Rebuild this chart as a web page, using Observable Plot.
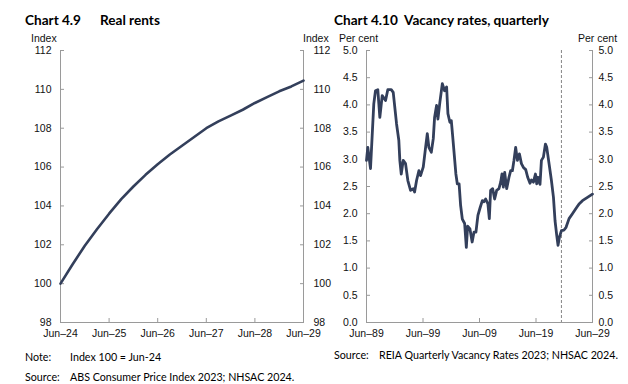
<!DOCTYPE html>
<html><head><meta charset="utf-8">
<script src="https://cdn.jsdelivr.net/npm/d3@7"></script>
<script src="https://cdn.jsdelivr.net/npm/@observablehq/plot@0.6"></script>
<style>
body{margin:0;width:628px;height:384px;position:relative;background:#fff;overflow:hidden;font-family:"Liberation Sans",Arial,sans-serif;}
.t{position:absolute;top:11px;font-family:Lato,"Open Sans",sans-serif;font-weight:bold;font-size:13.6px;line-height:18px;color:#000;white-space:pre}
.u{position:absolute;top:32px;font-size:10.5px;line-height:12px;color:#111;white-space:pre}
.n{position:absolute;font-family:Lato,"Open Sans",sans-serif;font-size:10.7px;line-height:14px;color:#000;white-space:pre}
.c{position:absolute;top:0}
</style></head>
<body>
<div class="t" style="left:25px">Chart 4.9</div>
<div class="t" style="left:100px">Real rents</div>
<div class="t" style="left:334px">Chart 4.10</div>
<div class="t" style="left:404px">Vacancy rates, quarterly</div>
<div class="u" style="left:31px">Index</div>
<div class="u" style="left:303px">Index</div>
<div class="u" style="left:339px">Per cent</div>
<div class="u" style="left:578px">Per cent</div>
<div id="c1" class="c" style="left:0px"></div>
<div id="c2" class="c" style="left:314px"></div>
<div class="n" style="left:25px;top:350px">Note:</div>
<div class="n" style="left:70px;top:350px">Index 100 = Jun-24</div>
<div class="n" style="left:25px;top:370px">Source:</div>
<div class="n" style="left:70px;top:370px">ABS Consumer Price Index 2023; NHSAC 2024.</div>
<div class="n" style="left:334px;top:348px">Source:</div>
<div class="n" style="left:379px;top:348px">REIA Quarterly Vacancy Rates 2023; NHSAC 2024.</div>
<script>
// ---- Chart 4.9 data ----
const rentYear = [2024.5, 2024.75, 2025.0, 2025.25, 2025.5, 2025.75, 2026.0, 2026.25, 2026.5, 2026.75, 2027.0,
  2027.25, 2027.5, 2027.75, 2028.0, 2028.25, 2028.5, 2028.75, 2029.0, 2029.25, 2029.5];
const rentIndex = [100, 101.0, 101.95, 102.8, 103.6, 104.35, 105.0, 105.6, 106.15, 106.65, 107.1,
  107.55, 108.0, 108.35, 108.65, 108.95, 109.3, 109.6, 109.9, 110.15, 110.45];
const rentXTicks = [2024.5, 2025.5, 2026.5, 2027.5, 2028.5, 2029.5];
const rentXLabels = ["Jun–24", "Jun–25", "Jun–26", "Jun–27", "Jun–28", "Jun–29"];
const rentYTicks = [98, 100, 102, 104, 106, 108, 110, 112];

// ---- Chart 4.10 data ----
const vacYear = [1989.5, 1989.73, 1990.21, 1990.79, 1991.09, 1991.5, 1991.86, 1992.28, 1992.87, 1993.27, 1993.88,
  1994.23, 1994.82, 1995.22, 1995.4, 1995.65, 1996.0, 1996.41, 1996.82, 1997.3, 1997.78, 1998.01, 1998.36,
  1998.77, 1999.07, 1999.55, 1999.96, 2000.26, 2000.54, 2000.97, 2001.32, 2001.55, 2001.9, 2002.14, 2002.49,
  2002.92, 2003.32, 2003.68, 2003.91, 2004.26, 2004.51, 2004.74, 2004.97, 2005.32, 2005.57, 2005.89, 2006.16,
  2006.46, 2006.87, 2007.17, 2007.4, 2007.81, 2008.2, 2008.52, 2008.87, 2009.22, 2009.58, 2010.0, 2010.29,
  2010.59, 2010.99, 2011.24, 2011.47, 2011.83, 2012.18, 2012.54, 2012.94, 2013.25, 2013.48, 2013.72, 2013.96,
  2014.31, 2014.72, 2015.02, 2015.32, 2015.6, 2015.9, 2016.21, 2016.56, 2016.92, 2017.27, 2017.68, 2018.03,
  2018.44, 2018.69, 2019.04, 2019.4, 2019.63, 2019.86, 2020.21, 2020.46, 2020.81, 2021.17, 2021.4, 2021.81,
  2022.23, 2022.59, 2022.87, 2023.17, 2023.4, 2023.65, 2024.0, 2024.46, 2024.82, 2025.35, 2025.95, 2026.54,
  2027.12, 2027.72, 2028.61, 2029.49];
const vacRate = [2.98, 3.22, 2.83, 4.02, 4.26, 4.28, 3.77, 4.17, 4.08, 4.28, 4.28,
  4.23, 3.65, 3.35, 2.98, 2.73, 2.98, 2.92, 2.61, 2.43, 2.46, 2.40, 2.61,
  2.79, 2.70, 2.86, 3.22, 3.47, 3.22, 3.13, 3.38, 3.77, 3.99, 3.74, 4.05,
  4.39, 4.26, 4.33, 3.84, 3.68, 3.71, 3.44, 3.16, 2.73, 2.55, 2.55, 2.15,
  1.90, 1.82, 1.38, 1.77, 1.72, 1.48, 1.66, 1.66, 1.97, 2.10, 2.24, 2.22,
  2.27, 2.18, 1.91, 2.43, 2.46, 2.27, 2.43, 2.46, 2.58, 2.73, 2.49, 2.76,
  2.46, 2.67, 2.79, 2.79, 2.98, 3.22, 2.98, 3.10, 2.92, 2.85, 2.81, 2.67,
  2.56, 2.62, 2.58, 2.73, 2.55, 2.67, 2.54, 2.98, 3.04, 3.28, 3.22, 2.92,
  2.61, 2.30, 1.87, 1.60, 1.42, 1.57, 1.69, 1.70, 1.75, 1.91, 2.00, 2.09,
  2.18, 2.24, 2.30, 2.36];
const vacXTicks = [1989.5, 1999.5, 2009.5, 2019.5, 2029.5];
const vacXLabels = ["Jun–89", "Jun–99", "Jun–09", "Jun–19", "Jun–29"];
const vacYTicks = [0, 0.5, 1, 1.5, 2, 2.5, 3, 3.5, 4, 4.5, 5];
const projectionStart = [2024.0];

const lineColor = "#333f5b";
const axisColor = "#9a9a9a";
const textColor = "#111";
const baseStyle = {fontFamily: "'Liberation Sans', Arial, sans-serif", fontSize: "10.5px", color: textColor, background: "transparent", overflow: "visible"};

const rentData = rentYear.map((x, i) => ({x, y: rentIndex[i]}));
const p1 = Plot.plot({
  width: 314, height: 345, marginLeft: 60, marginRight: 11, marginTop: 50, marginBottom: 23,
  style: baseStyle,
  x: {domain: [rentXTicks[0], rentXTicks[rentXTicks.length - 1]]},
  y: {domain: [rentYTicks[0], rentYTicks[rentYTicks.length - 1]]},
  marks: [
    Plot.ruleY([rentYTicks[0]], {stroke: axisColor}),
    Plot.ruleX([rentXTicks[0], rentXTicks[rentXTicks.length - 1]], {stroke: axisColor}),
    Plot.axisY({anchor: "left", ticks: rentYTicks, tickSize: -4, tickPadding: 13, stroke: axisColor, fill: textColor, label: null, tickFormat: d => String(d)}),
    Plot.axisY({anchor: "right", ticks: rentYTicks, tickSize: -4, tickPadding: 14, stroke: axisColor, fill: textColor, label: null, tickFormat: d => String(d)}),
    Plot.axisX({ticks: rentXTicks, tickSize: -4, tickPadding: 11, stroke: axisColor, fill: textColor, label: null, tickFormat: d => rentXLabels[rentXTicks.indexOf(d)]}),
    Plot.line(rentData, {x: "x", y: "y", stroke: lineColor, strokeWidth: 2.6})
  ]
});
document.getElementById("c1").append(p1);

const vacData = vacYear.map((x, i) => ({x, y: vacRate[i]}));
const f1 = d3.format(".1f");
const p2 = Plot.plot({
  width: 314, height: 345, marginLeft: 52, marginRight: 36, marginTop: 50, marginBottom: 23,
  style: baseStyle,
  x: {domain: [vacXTicks[0], vacXTicks[vacXTicks.length - 1]]},
  y: {domain: [vacYTicks[0], vacYTicks[vacYTicks.length - 1]]},
  marks: [
    Plot.ruleY([vacYTicks[0]], {stroke: axisColor}),
    Plot.ruleX([vacXTicks[0], vacXTicks[vacXTicks.length - 1]], {stroke: axisColor}),
    Plot.ruleX(projectionStart, {stroke: "#666", strokeWidth: 0.8, strokeDasharray: "3,2"}),
    Plot.axisY({anchor: "left", ticks: vacYTicks, tickSize: -4, tickPadding: 13, stroke: axisColor, fill: textColor, label: null, tickFormat: f1}),
    Plot.axisY({anchor: "right", ticks: vacYTicks, tickSize: -4, tickPadding: 10, stroke: axisColor, fill: textColor, label: null, tickFormat: f1}),
    Plot.axisX({ticks: vacXTicks, tickSize: -4, tickPadding: 11, stroke: axisColor, fill: textColor, label: null, tickFormat: d => vacXLabels[vacXTicks.indexOf(d)]}),
    Plot.line(vacData, {x: "x", y: "y", stroke: lineColor, strokeWidth: 2.8, strokeLinejoin: "round"})
  ]
});
document.getElementById("c2").append(p2);
</script>
</body></html>
